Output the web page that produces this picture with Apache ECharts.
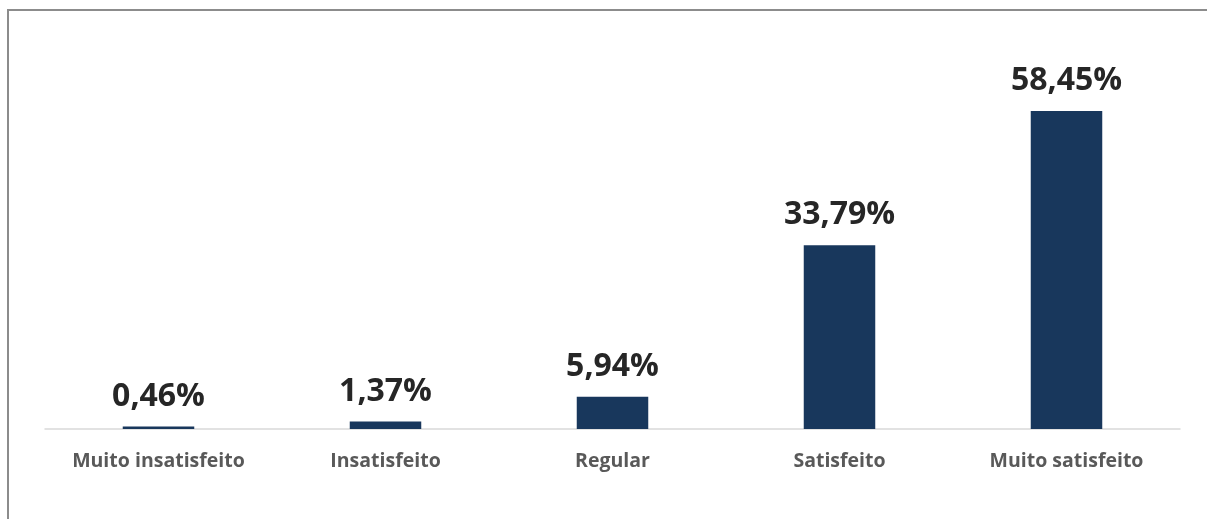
<!DOCTYPE html>
<html>
<head>
<meta charset="utf-8">
<script src="https://cdn.jsdelivr.net/npm/echarts@6/dist/echarts.min.js"></script>
<style>
html,body{margin:0;padding:0;background:#fff;}
#c{width:1207px;height:519px;}
</style>
</head>
<body>
<div id="c"></div>
<script>
const categories = ["Muito insatisfeito", "Insatisfeito", "Regular", "Satisfeito", "Muito satisfeito"];
const values = [0.46, 1.37, 5.94, 33.79, 58.45];

const chart = echarts.init(document.getElementById('c'), null, {renderer: 'canvas'});
chart.setOption({
  animation: false,
  backgroundColor: '#ffffff',
  graphic: [{
    type: 'rect',
    shape: {x: 8, y: 10, width: 1400, height: 700},
    style: {fill: 'none', stroke: '#8c8c8c', lineWidth: 2},
    silent: true
  }],
  grid: {left: 45, right: 27, top: 102.6, bottom: 90, containLabel: false},
  xAxis: {
    type: 'category',
    data: categories,
    axisLine: {show: true, lineStyle: {color: '#d9d9d9', width: 1.5}},
    axisTick: {show: false},
    axisLabel: {
      color: '#595959', fontFamily: 'Open Sans', fontWeight: 'bold', fontSize: 19.5, margin: 22
    }
  },
  yAxis: {
    type: 'value', min: 0, max: 60,
    show: false,
    splitLine: {show: false}
  },
  series: [{
    type: 'bar',
    data: values,
    barWidth: '31.5%',
    itemStyle: {color: '#18375c'},
    label: {
      show: true, position: 'top', distance: 14,
      color: '#262626', fontFamily: 'Open Sans', fontWeight: 'bold', fontSize: 32,
      formatter: p => p.value.toFixed(2).replace('.', ',') + '%'
    }
  }]
});
</script>
</body>
</html>
